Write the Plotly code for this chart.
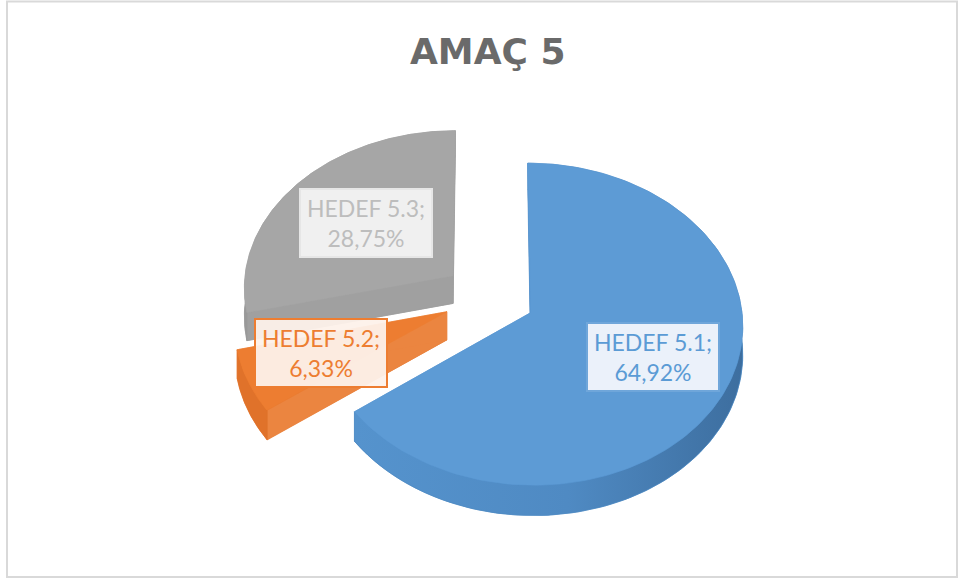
import numpy as np
import plotly.graph_objects as go

# ---------------- data ----------------
title_text = "AMAÇ 5"
categories = ["HEDEF 5.1", "HEDEF 5.2", "HEDEF 5.3"]
values = [64.92, 6.33, 28.75]
top_colors = ["#5D9BD5", "#ED7D31", "#A6A6A6"]
wall_colors = ["#4E89C2", "#E0722A", "#999999"]
cut_colors = ["#5592CC", "#EB8540", "#A0A0A0"]
text_colors = ["#5B9BD5", "#ED7D31", "#BDBDBD"]
box_fills = ["rgba(242,246,252,0.95)", "rgba(253,241,234,0.95)", "rgba(243,243,243,0.95)"]
box_borders = ["#6FA6DA", "#ED7D31", "#E6E6E6"]
label_pos = [(653, 357), (321, 353), (366, 223)]   # label box centres (pixel axes)

# ---------------- pseudo-3D geometry (style parameters) ----------------
CX, CY = 489, 297      # pie centre on screen
RX, RY = 210, 158      # ellipse radii
P = 0.07               # perspective strength
H = 28                 # slice thickness
E = 0.22               # explosion fraction


def proj(u, w, t):
    d = 1 + P * w
    return CX + RX * u / d, CY + (-RY * w + H * t) / d


fig = go.Figure()

total = sum(values)
starts = np.cumsum([0] + values[:-1]) / total * 360.0
ends = np.cumsum(values) / total * 360.0


def add_poly(xs, ys, color, grad=None):
    kw = {}
    if grad is not None:
        kw["fillgradient"] = grad
    fig.add_trace(go.Scatter(x=list(xs) + [xs[0]], y=list(ys) + [ys[0]], fill="toself",
                             fillcolor=color, mode="lines",
                             line=dict(color=color, width=0.6),
                             hoverinfo="skip", showlegend=False, **kw))


slices = []
for i, v in enumerate(values):
    a1, a2 = starts[i], ends[i]
    m = np.radians((a1 + a2) / 2)
    ou, ow = E * np.sin(m), E * np.cos(m)
    th = np.radians(np.linspace(a1, a2, 160))
    au = ou + np.sin(th)
    aw = ow + np.cos(th)
    slices.append((i, a1, a2, ou, ow, au, aw))

wall_grads = [
    dict(type="horizontal", colorscale=[[0, "#5593CD"], [0.55, "#4F8AC3"], [1, "#3D6E9F"]]),
    None,
    None,
]

# draw far slices first (gray, orange, blue)
order = [2, 1, 0]
for i in order:
    _, a1, a2, ou, ow, au, aw = slices[i]
    # bottom face
    bx, by = proj(np.r_[ou, au], np.r_[ow, aw], 1)
    add_poly(bx, by, wall_colors[i])
    # cut faces
    for k in (0, -1):
        pts = [(ou, ow, 0), (au[k], aw[k], 0), (au[k], aw[k], 1), (ou, ow, 1)]
        cx = [proj(p[0], p[1], p[2])[0] for p in pts]
        cy = [proj(p[0], p[1], p[2])[1] for p in pts]
        add_poly(cx, cy, cut_colors[i])
    # outer wall
    tx, ty = proj(au, aw, 0)
    bx2, by2 = proj(au, aw, 1)
    add_poly(np.r_[tx, bx2[::-1]], np.r_[ty, by2[::-1]], wall_colors[i], wall_grads[i])
    # top face
    fx, fy = proj(np.r_[ou, au], np.r_[ow, aw], 0)
    add_poly(fx, fy, top_colors[i])

# ---------------- labels ----------------
for i, (name, v) in enumerate(zip(categories, values)):
    pct = f"{v:.2f}".replace(".", ",")
    txt = f"{name};<br>{pct}%"
    fig.add_annotation(x=label_pos[i][0], y=label_pos[i][1], xref="x", yref="y",
                       text=txt, showarrow=False, width=124, height=60,
                       font=dict(family="Lato", size=23, color=text_colors[i]),
                       bgcolor=box_fills[i], bordercolor=box_borders[i],
                       borderwidth=2, borderpad=3, align="center", valign="middle")

# title
fig.add_annotation(x=488, y=51, xref="x", yref="y", text=f"<b>{title_text}</b>",
                   showarrow=False, font=dict(family="DejaVu Sans", size=36, color="#6A6A6A"))

# chart border
fig.add_shape(type="rect", x0=7, y0=1.5, x1=957, y1=577, xref="x", yref="y",
              line=dict(color="#D9D9D9", width=2), fillcolor="rgba(0,0,0,0)", layer="below")

fig.update_layout(width=960, height=579, autosize=False,
                  margin=dict(l=0, r=0, t=0, b=0),
                  paper_bgcolor="white", plot_bgcolor="white",
                  xaxis=dict(range=[0, 960], visible=False, fixedrange=True),
                  yaxis=dict(range=[579, 0], visible=False, fixedrange=True),
                  showlegend=False)

fig.write_html("out.html", config={"displayModeBar": False, "staticPlot": True},
               post_script="document.body.style.margin='0px';")
